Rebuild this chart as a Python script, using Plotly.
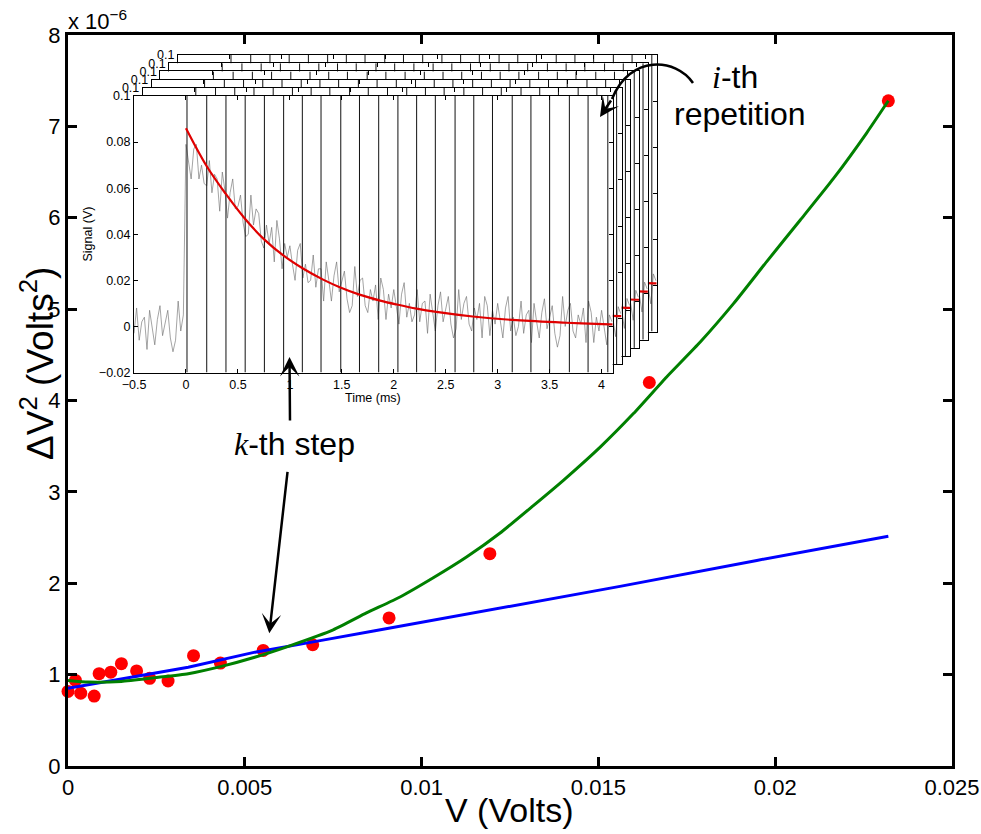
import plotly.graph_objects as go

# ---------------- data: main axes (ΔV² in units of 1e-6 V²) ----------------
v_meas = [0.0, 0.00021, 0.00036, 0.00074, 0.00088, 0.00121, 0.00151, 0.00194, 0.00231,
          0.00283, 0.00355, 0.00431, 0.00552, 0.00692, 0.00908, 0.01193, 0.01644, 0.0232]
dv2_meas = [0.816, 0.936, 0.797, 0.765, 1.01, 1.027, 1.12, 1.04, 0.96,
            0.93, 1.207, 1.126, 1.265, 1.327, 1.62, 2.324, 4.197, 7.28]

v_lin = [0.0, 0.00151, 0.0034, 0.00529, 0.00656, 0.00717, 0.00868, 0.00939,
         0.01222, 0.01561, 0.01948, 0.0232]
dv2_lin = [0.852, 0.955, 1.08, 1.246, 1.33, 1.375, 1.48, 1.53,
           1.722, 1.966, 2.25, 2.514]

v_quad = [0.0, 0.00057, 0.00151, 0.00245, 0.0034, 0.00434, 0.00528, 0.00623, 0.0075,
          0.00844, 0.00939, 0.01033, 0.01127, 0.01222, 0.01316, 0.01401, 0.01505,
          0.01599, 0.01693, 0.01788, 0.01882, 0.01976, 0.02071, 0.02165, 0.02259, 0.0232]
dv2_quad = [0.936, 0.918, 0.925, 0.966, 1.01, 1.09, 1.19, 1.31, 1.49,
            1.675, 1.85, 2.06, 2.287, 2.55, 2.85, 3.127, 3.49,
            3.857, 4.258, 4.64, 5.06, 5.52, 5.975, 6.43, 6.93, 7.28]

main_xticks = [0, 0.005, 0.01, 0.015, 0.02, 0.025]
main_xlabels = ["0", "0.005", "0.01", "0.015", "0.02", "0.025"]
main_yticks = [0, 1, 2, 3, 4, 5, 6, 7, 8]
main_ylabels = ["0", "1", "2", "3", "4", "5", "6", "7", "8"]

# ---------------- data: inset (signal in V vs time in ms) ----------------
signal_t0 = -0.5
signal_dt = 0.025
signal = [
    -0.003, 0.008, -0.006, 0.002, 0.004, -0.010, 0.007, -0.001, -0.008, 0.003,
    0.009, -0.004, 0.002, 0.007, -0.005, -0.011, -0.006, 0.011, -0.002, 0.005,
    0.079, 0.071, 0.064, 0.077, 0.079, 0.064, 0.070, 0.062,
    0.061, 0.072, 0.058, 0.066, 0.064, 0.050, 0.067, 0.059,
    0.047, 0.058, 0.064, 0.051, 0.052, 0.057, 0.045, 0.039,
    0.040, 0.057, 0.044, 0.051, 0.049, 0.037, 0.034, 0.044,
    0.036, 0.043, 0.028, 0.046, 0.038, 0.025, 0.036, 0.030,
    0.035, 0.027, 0.020, 0.033, 0.036, 0.021, 0.027, 0.019,
    0.020, 0.031, 0.017, 0.025, 0.025, 0.011, 0.028, 0.020,
    0.011, 0.022, 0.028, 0.015, 0.019, 0.024, 0.012, 0.006,
    0.009, 0.026, 0.013, 0.020, 0.021, 0.009, 0.006, 0.016,
    0.011, 0.018, 0.003, 0.021, 0.016, 0.003, 0.014, 0.008,
    0.016, 0.008, 0.001, 0.014, 0.019, 0.004, 0.010, 0.002,
    0.005, 0.016, 0.002, 0.010, 0.011, -0.003, 0.014, 0.006,
    -0.002, 0.009, 0.015, 0.002, 0.008, 0.013, 0.001, -0.005,
    -0.001, 0.016, 0.003, 0.010, 0.013, 0.001, -0.002, 0.008,
    0.003, 0.010, -0.005, 0.013, 0.009, -0.004, 0.007, 0.001,
    0.010, 0.002, -0.005, 0.008, 0.013, -0.002, 0.004, -0.004,
    0.000, 0.011, -0.003, 0.005, 0.007, -0.007, 0.010, 0.002,
    -0.005, 0.006, 0.012, -0.001, 0.004, 0.009, -0.003, -0.009,
    -0.004, 0.013, 0.000, 0.007, 0.010, -0.002, -0.005, 0.005,
    0.001, 0.008, -0.007, 0.011, 0.006, -0.007, 0.004, -0.002,
    0.007, -0.001, -0.008, 0.005, 0.002,
]
fit_t = [0.0, 0.2, 0.38, 0.57, 0.75, 0.94, 1.13, 1.32, 1.48, 1.67, 1.87, 2.03,
         2.22, 2.41, 2.76, 3.18, 3.66, 4.08, 4.107]
fit_v = [0.086, 0.0695, 0.0577, 0.0466, 0.0379, 0.0307, 0.0250, 0.0203, 0.0170, 0.0138,
         0.0112, 0.0095, 0.0077, 0.0063, 0.0043, 0.0027, 0.0016, 0.0009, 0.0009]
step_t = [0.01, 0.2, 0.385, 0.57, 0.755, 0.94, 1.12, 1.3, 1.49, 1.67, 1.855, 2.04,
          2.22, 2.4, 2.59, 2.77, 2.95, 3.14, 3.32, 3.5, 3.69, 3.87, 4.06]

inset_xrange = [-0.5, 4.107]
inset_yrange = [-0.02, 0.1]
inset_xticks = [-0.5, 0, 0.5, 1, 1.5, 2, 2.5, 3, 3.5, 4]
inset_xlabels = ["\u22120.5", "0", "0.5", "1", "1.5", "2", "2.5", "3", "3.5", "4"]
inset_yticks = [-0.02, 0, 0.02, 0.04, 0.06, 0.08, 0.1]
inset_ylabels = ["\u22120.02", "0", "0.02", "0.04", "0.06", "0.08", "0.1"]
n_frames = 6

# ---------------- geometry ----------------
W, H = 981, 834
PL, PR, PT, PB = 68, 952, 35, 766          # plot area in window pixels
ML, MT, MR, MB = PL, PT, W - PR, H - PB
PW, PH = PR - PL, PB - PT


def px(x):
    return (x - PL) / PW


def py(y):
    return (PB - y) / PH


INSET_L, INSET_R, INSET_T, INSET_B = 134, 612.7, 96, 372.5
DX, DY = 8.8, 8.2

FONT = "Liberation Sans, Arial, Helvetica, sans-serif"
SERIF = "Liberation Serif, Times New Roman, serif"

fig = go.Figure()

# main traces
fig.add_trace(go.Scatter(x=v_meas, y=dv2_meas, mode="markers", cliponaxis=False,
                         marker=dict(color="#ff0000", size=13, line=dict(width=0)),
                         xaxis="x", yaxis="y"))
fig.add_trace(go.Scatter(x=v_lin, y=dv2_lin, mode="lines",
                         line=dict(color="#0000ff", width=3), xaxis="x", yaxis="y"))
fig.add_trace(go.Scatter(x=v_quad, y=dv2_quad, mode="lines",
                         line=dict(color="#008000", width=3, shape="spline", smoothing=0.5),
                         xaxis="x", yaxis="y"))

# step lines built from step times
step_x, step_y = [], []
for t in step_t:
    step_x += [t, t, None]
    step_y += [inset_yrange[0], inset_yrange[1], None]

layout_axes = {}
for k in range(n_frames - 1, -1, -1):
    n = 7 - k
    front = (k == 0)
    xa = f"x{n}"
    ya = f"y{n}"
    fig.add_trace(go.Scatter(x0=signal_t0, dx=signal_dt, y=signal, mode="lines",
                             line=dict(color="rgba(115,115,115,0.65)", width=1),
                             xaxis=xa, yaxis=ya))
    fig.add_trace(go.Scatter(x=step_x, y=step_y, mode="lines",
                             line=dict(color="#111111", width=1), xaxis=xa, yaxis=ya))
    fig.add_trace(go.Scatter(x=fit_t, y=fit_v, mode="lines",
                             line=dict(color="#e00000", width=2.2, shape="spline"),
                             xaxis=xa, yaxis=ya))
    common = dict(showline=True, linecolor="black", linewidth=1, mirror="ticks",
                  ticks="inside", ticklen=4, tickwidth=1, tickcolor="black",
                  showgrid=False, zeroline=False, fixedrange=True, automargin=False,
                  tickfont=dict(family=FONT, size=12.5, color="black"))
    layout_axes[f"xaxis{n}"] = dict(
        common, domain=[px(INSET_L + k * DX), px(INSET_R + k * DX)],
        range=inset_xrange, anchor=ya, tickmode="array", tickvals=inset_xticks,
        ticktext=inset_xlabels, showticklabels=front)
    layout_axes[f"yaxis{n}"] = dict(
        common, domain=[py(INSET_B - k * DY), py(INSET_T - k * DY)],
        range=inset_yrange, anchor=xa, tickmode="array", tickvals=inset_yticks,
        ticktext=inset_ylabels if front else [""] * (len(inset_ylabels) - 1) + [inset_ylabels[-1]])

main_common = dict(showline=True, linecolor="black", linewidth=3, mirror="ticks",
                   ticks="inside", ticklen=9, tickwidth=2.5, tickcolor="black",
                   showgrid=False, zeroline=False, automargin=False,
                   tickfont=dict(family=FONT, size=22, color="black"))

ARROW = dict(showarrow=True, arrowhead=3, arrowsize=1.3, arrowwidth=2.5, arrowcolor="black")

annotations = [
    dict(text="x 10<sup>\u22126</sup>", xref="paper", yref="paper", x=px(66), y=py(36),
         xanchor="left", yanchor="bottom", showarrow=False,
         font=dict(family=FONT, size=22, color="black")),
    dict(text="\u0394V<sup>2</sup> (Volts<sup>2</sup>)", xref="paper", yref="paper",
         x=px(37), y=py(364), xanchor="center", yanchor="middle", textangle=-90,
         showarrow=False, font=dict(family=FONT, size=37, color="black")),
    dict(text="V (Volts)", xref="paper", yref="paper", x=px(509), y=py(810),
         xanchor="center", yanchor="middle", showarrow=False,
         font=dict(family=FONT, size=34, color="black")),
    dict(text="Signal (V)", xref="paper", yref="paper", x=px(87.5), y=py(234),
         xanchor="center", yanchor="middle", textangle=-90, showarrow=False,
         font=dict(family=FONT, size=12.5, color="black")),
    dict(text="Time (ms)", xref="paper", yref="paper", x=px(373), y=py(398),
         xanchor="center", yanchor="middle", showarrow=False,
         font=dict(family=FONT, size=12.5, color="black")),
    dict(text=f"<span style='font-family:{SERIF}'><i>k</i></span>-th step",
         xref="paper", yref="paper", x=px(294), y=py(444),
         xanchor="center", yanchor="middle", showarrow=False,
         font=dict(family=FONT, size=32, color="black")),
    dict(text=f"<span style='font-family:{SERIF}'><i>i</i></span>-th",
         xref="paper", yref="paper", x=px(735), y=py(77),
         xanchor="center", yanchor="middle", showarrow=False,
         font=dict(family=FONT, size=32, color="black")),
    dict(text="repetition", xref="paper", yref="paper", x=px(739.5), y=py(114),
         xanchor="center", yanchor="middle", showarrow=False,
         font=dict(family=FONT, size=32, color="black")),
    # arrows
    dict(ARROW, text="", xref="paper", yref="paper", x=px(289.5), y=py(357),
         ax=0.5, ay=65),
    dict(ARROW, text="", xref="paper", yref="paper", x=px(269.3), y=py(633.3),
         ax=18.4, ay=-163),
    dict(ARROW, text="", xref="paper", yref="paper", x=px(600), y=py(117),
         ax=12, ay=-18),
]

curve = (f"M {px(693)},{py(83)} C {px(676)},{py(58)} {px(630)},{py(54)} "
         f"{px(612)},{py(99)}")
shapes = [dict(type="path", xref="paper", yref="paper", path=curve,
               line=dict(color="black", width=2.5), layer="above")]

fig.update_layout(
    width=W, height=H, autosize=False,
    margin=dict(l=ML, r=MR, t=MT, b=MB, pad=0, autoexpand=False),
    paper_bgcolor="white", plot_bgcolor="white", showlegend=False,
    xaxis=dict(main_common, domain=[0, 1], range=[0, 0.025], tickmode="array",
               tickvals=main_xticks, ticktext=main_xlabels),
    yaxis=dict(main_common, domain=[0, 1], range=[0, 8], tickmode="array",
               tickvals=main_yticks, ticktext=main_ylabels),
    annotations=annotations, shapes=shapes,
    **layout_axes,
)

# remove the page's default 8px body margin so the figure sits at the window origin
fig.write_html("out.html", config={"displayModeBar": False},
               post_script="document.body.style.margin='0px';document.body.style.overflow='hidden';")
